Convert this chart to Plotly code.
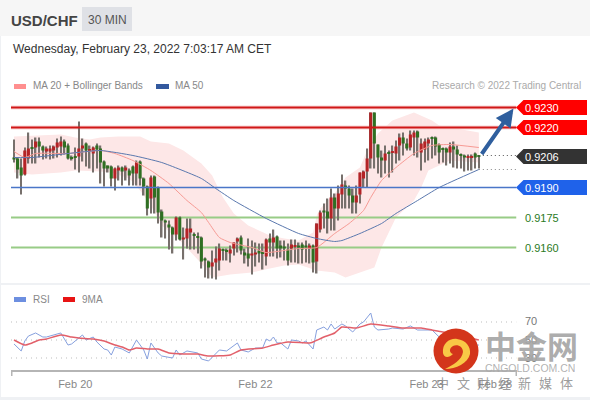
import plotly.graph_objects as go

# ---- data -------------------------------------------------------------
open_p = [92050,92045,92000,91965,92045,92100,92100,92130,92105,92080,92080,92085,92100,92105,92130,92110,92050,92055,92055,92095,
92120,92085,92070,92110,92095,92030,92010,92005,91945,91985,92000,91985,91985,92005,91970,92030,91945,91905,91845,91955,
91900,91780,91735,91715,91700,91665,91750,91640,91645,91675,91665,91655,91650,91545,91530,91505,91525,91535,91590,91585,
91570,91595,91630,91650,91575,91570,91560,91565,91585,91575,91555,91645,91625,91655,91610,91605,91590,91595,91605,91610,
91615,91610,91595,91610,91530,91690,91785,91780,91745,91850,91795,91865,91910,91895,91860,91825,91865,91945,91980,92045,
92275,92115,92050,92035,92075,92075,92070,92110,92150,92120,92100,92150,92180,92075,92090,92120,92150,92150,92115,92095,
92095,92075,92105,92090,92065,92060,92050,92050,92070,92060]
close_p = [92040,91990,91960,92085,92095,92095,92130,92105,92085,92095,92095,92105,92125,92130,92100,92045,92045,92050,92095,92110,
92085,92090,92100,92090,92025,91995,91995,91945,91995,92000,91980,92000,91960,91970,92025,91945,91905,91795,91950,91850,
91775,91735,91725,91700,91665,91750,91640,91650,91695,91695,91660,91650,91530,91535,91500,91525,91545,91595,91585,91580,
91590,91625,91645,91585,91560,91545,91570,91575,91570,91570,91640,91625,91650,91595,91595,91595,91535,91615,91610,91600,
91590,91600,91610,91525,91720,91775,91775,91745,91850,91795,91870,91915,91895,91860,91825,91860,91975,91980,92045,92275,
92120,92050,92035,92070,92070,92080,92105,92150,92120,92095,92165,92175,92150,92120,92130,92140,92145,92105,92075,92090,
92075,92105,92090,92065,92060,92050,92055,92055,92050,92055]
high_p = [92140,92050,92045,92100,92175,92140,92150,92150,92110,92105,92110,92110,92145,92155,92140,92120,92060,92100,92230,92145,
92125,92110,92105,92120,92110,92035,92010,92010,92000,92010,92005,92010,91995,92010,92035,92035,91950,91910,91960,91960,
91905,91790,91740,91735,91705,91755,91755,91700,91745,91745,91675,91675,91655,91550,91535,91585,91605,91620,91595,91595,
91610,91625,91650,91660,91595,91645,91635,91625,91620,91620,91645,91670,91690,91660,91635,91635,91620,91640,91640,91625,
91625,91635,91620,91615,91720,91785,91820,91845,91895,91870,91910,91965,91935,91910,91895,91910,91975,91985,92095,92275,
92275,92115,92085,92110,92085,92110,92135,92170,92175,92145,92185,92185,92185,92145,92145,92150,92155,92155,92120,92100,
92100,92125,92130,92110,92070,92065,92065,92065,92075,92060]
low_p = [92025,91945,91865,91960,92020,92020,92020,92050,92040,92045,92040,92045,92050,92060,92065,92040,92035,91990,91975,92030,
92005,91995,91975,91995,91920,91905,91975,91905,91885,91935,91910,91935,91910,91910,91910,91910,91860,91760,91770,91770,
91720,91650,91645,91590,91570,91635,91635,91540,91595,91590,91590,91570,91495,91450,91445,91445,91440,91485,91535,91535,
91525,91560,91575,91565,91520,91505,91465,91505,91525,91490,91510,91555,91555,91545,91550,91535,91510,91525,91525,91520,
91520,91525,91520,91475,91470,91675,91695,91670,91685,91685,91735,91795,91795,91795,91770,91770,91820,91900,91900,91995,
91995,91970,91950,91970,91950,91975,92020,92035,92060,92085,92085,92060,92050,91985,92025,92035,92045,92060,92020,92025,
92010,92020,92000,91995,91995,91980,91985,91985,91995,91995]
SCALE = 100000.0

ma20_i = [0,3,6,15,24,28,33,38,43,48,52,54,57,60,66,70,75,79,84,89,93,97,99,102,106,111,116,121,129]
ma20_v = [92080,92050,92070,92070,92085,92070,92035,91985,91920,91835,91775,91725,91650,91625,91600,91575,91585,91595,91600,91670,91720,91785,91850,91935,92000,92070,92110,92115,92100]
ma50_i = [0,5,15,24,33,41,52,56,61,70,79,84,89,91,96,102,106,112,118,129]
ma50_v = [92050,92050,92070,92085,92060,92025,91945,91895,91835,91745,91670,91645,91630,91635,91670,91720,91770,91835,91900,91990]
bb_up_i = [0,5,13,17,21,24,29,35,38,43,47,52,55,57,58,61,65,71,75,79,83,84,85,89,92,96,98,101,105,111,116,118,129]
bb_up_v = [92155,92160,92165,92150,92140,92150,92155,92155,92130,92120,92085,92020,91960,91885,91850,91770,91710,91660,91645,91635,91675,91760,91795,91870,91950,92000,92085,92170,92235,92275,92235,92210,92175]
bb_lo_i = [0,5,13,17,24,27,32,35,38,41,46,48,52,55,60,66,71,75,79,84,89,92,100,102,106,111,113,115,118,121,129]
bb_lo_v = [91975,91965,91975,91985,91980,91975,91945,91885,91810,91710,91635,91600,91520,91450,91465,91475,91495,91510,91515,91485,91475,91450,91500,91600,91750,91835,91900,91985,92010,92035,92025]

rsi_i = [0,2,3,4,6,8,9,13,15,16,19,20,22,23,25,26,27,28,30,32,34,36,37,38,40,41,44,45,46,48,51,52,54,57,59,62,63,65,67,69,70,71,72,73,74,76,77,79,80,81,83,84,86,87,88,89,91,92,94,96,97,99,100,101,104,105,108,110,112,116,118,120,124,129]
rsi_v = [45.6,37.8,48.9,54.4,57.8,53.3,53.3,57.8,44.4,45.6,55.6,50,53.3,47.8,40,38.9,33.3,42.2,40,35.6,50,38.9,28.9,46.7,35.6,32.2,30,38.9,33.3,37.8,35.6,28.9,26.7,38.9,37.8,46.7,38.9,36.7,41.1,41.1,51.1,48.9,53.3,46.7,46.7,40,50,48.9,46.7,48.9,40,61.1,64.4,61.1,67.8,62.2,67.8,65.6,58.9,67.8,70,80,64.4,61.1,62.2,63.3,62.2,65.6,61.1,61.1,53.3,50,44.4,44.4]
ma9_i = [0,3,5,7,9,13,16,18,22,25,28,30,32,34,37,40,43,47,51,54,60,63,69,72,76,82,83,86,89,91,95,99,104,108,113,116,119,129]
ma9_v = [50,44.4,46.7,50,51.1,55.6,53.3,52.2,51.1,48.9,44.4,42.2,38.9,41.1,40,40,35.6,34.4,34.4,32.2,33.3,38.9,41.1,44.4,47.8,46.7,47.8,53.3,57.8,64.4,63.3,67.8,65.6,63.3,63.3,61.1,58.9,50]

RED_LEVELS = [0.9230, 0.9220]
BLUE_LEVEL = 0.9190
GREEN_LEVELS = [0.9175, 0.9160]
LAST_PRICE = 0.9206
RSI_LEVELS = [70, 50, 30]
TICK_POS = [17, 67, 114.5, 133.5]
TICK_TXT = ["Feb 20", "Feb 22", "Feb 23", "Feb 28"]
SLOGAN = ["中", "文", "财", "经", "新", "媒", "体"]

# ---- geometry ---------------------------------------------------------
W, H = 590, 400
FONT = "Liberation Sans"
X0, X1 = -0.83, 139.45
PRICE_RANGE = [0.908375, 0.928375]
def pxx(x): return x / W
def pxy(y): return 1 - y / H
def path(pts):
    return "M" + " L".join(f"{pxx(a):.5f},{pxy(b):.5f}" for a, b in pts) + " Z"

n = len(open_p)
idx = list(range(n))
o = [v / SCALE for v in open_p]; c = [v / SCALE for v in close_p]
h = [v / SCALE for v in high_p]; l = [v / SCALE for v in low_p]

fig = go.Figure()

# base layer: Bollinger band and soft level lines
fig.add_trace(go.Scatter(x=bb_up_i + bb_lo_i[::-1],
                         y=[v / SCALE for v in bb_up_v] + [v / SCALE for v in bb_lo_v[::-1]],
                         fill="toself", fillcolor="#fde7e7", line=dict(width=0), mode="lines",
                         hoverinfo="skip", name="Bollinger Bands"))
for lv in RED_LEVELS:
    fig.add_trace(go.Scatter(x=[X0, X1], y=[lv, lv], mode="lines", line=dict(color="#fad6d6", width=4)))
for lv in GREEN_LEVELS:
    fig.add_trace(go.Scatter(x=[X0, X1], y=[lv, lv], mode="lines", line=dict(color="#98cc86", width=1.8)))

# overlay axis y2: candles
fig.add_trace(go.Bar(x=idx, y=[a - b for a, b in zip(h, l)], base=l, width=0.42, yaxis="y2",
                     marker=dict(color="#77706c", line_width=0), name="wick"))
fig.add_trace(go.Bar(x=idx, y=[abs(a - b) for a, b in zip(o, c)],
                     base=[min(a, b) for a, b in zip(o, c)], width=0.86, yaxis="y2",
                     marker=dict(color=["#b42326" if b > a else "#2f6f22" for a, b in zip(o, c)], line_width=0),
                     name="body"))

# overlay axis y3: averages and levels
fig.add_trace(go.Scatter(x=ma20_i, y=[v / SCALE for v in ma20_v], mode="lines", name="MA 20", yaxis="y3",
                         line=dict(color="#f79a94", width=1, shape="spline", smoothing=0.5)))
fig.add_trace(go.Scatter(x=ma50_i, y=[v / SCALE for v in ma50_v], mode="lines", name="MA 50", yaxis="y3",
                         line=dict(color="#5a78ae", width=1, shape="spline", smoothing=0.5)))
for lv in RED_LEVELS:
    fig.add_trace(go.Scatter(x=[X0, X1], y=[lv, lv], mode="lines", yaxis="y3", line=dict(color="#d01818", width=2)))
fig.add_trace(go.Scatter(x=[X0, X1], y=[BLUE_LEVEL] * 2, mode="lines", yaxis="y3", line=dict(color="#4a76c8", width=1.5)))
fig.add_trace(go.Scatter(x=[idx[-1], X1], y=[LAST_PRICE] * 2, mode="lines", yaxis="y3",
                         line=dict(color="#555555", width=1, dash="1px 3px")))
fig.add_trace(go.Scatter(x=[idx[-1], X1], y=[ma50_v[-1] / SCALE] * 2, mode="lines", yaxis="y3",
                         line=dict(color="#888888", width=1, dash="1px 3px")))

# overlay axis y4: RSI
for lv in RSI_LEVELS:
    fig.add_trace(go.Scatter(x=[X0, X1], y=[lv, lv], yaxis="y4", mode="lines",
                             line=dict(color="#bdbdbd", width=1, dash="1px 4px")))
fig.add_trace(go.Scatter(x=rsi_i, y=rsi_v, yaxis="y4", mode="lines", name="RSI", line=dict(color="#86a0de", width=1)))
fig.add_trace(go.Scatter(x=ma9_i, y=ma9_v, yaxis="y4", mode="lines", name="9MA",
                         line=dict(color="#e2606a", width=1.5, shape="spline", smoothing=0.5)))

# ---- static decoration -------------------------------------------------
def rect(x0, y0, x1, y1, color, layer="below"):
    return dict(type="rect", xref="paper", yref="paper", x0=pxx(x0), x1=pxx(x1), y0=pxy(y0), y1=pxy(y1),
                fillcolor=color, line_width=0, layer=layer)
def tag(yc, color):
    return dict(type="path", xref="paper", yref="paper", layer="above", fillcolor=color, line_width=0,
                path=path([(516, yc), (523.5, yc - 7.5), (587, yc - 7.5), (587, yc + 7.5), (523.5, yc + 7.5)]))

shapes = [
    rect(0, 0, 590, 36, "#f6f6f6"),
    rect(82, 7, 132, 31, "#dfe1e6"),
    rect(0, 283, 590, 285, "#eff1f4"),
    rect(0, 397, 590, 400, "#eff1f4"),
    rect(0, 36, 1, 397, "#eff1f4"),
    rect(14, 84, 26, 89, "#ff8f8f"),
    rect(156, 84, 169, 89, "#33599e"),
    rect(14, 297, 26, 302, "#6d8fe0"),
    rect(63, 297, 75, 302, "#e81414"),
    rect(11, 370, 12.5, 376, "#b5b5b5"),
    rect(515.5, 370, 517, 376, "#b5b5b5"),
    tag(107.5, "#ff0000"), tag(127.5, "#ff0000"), tag(156.5, "#333333"), tag(187.5, "#1f62ea"),
    dict(type="circle", xref="paper", yref="paper", layer="above", fillcolor="#d3351b", line_width=0,
         x0=pxx(433.5), x1=pxx(478.5), y0=pxy(373.5), y1=pxy(328.5)),
    dict(type="path", xref="paper", yref="paper", layer="above", fillcolor="#f9c846", line_width=0,
         path=(f"M{pxx(443):.4f},{pxy(353):.4f} C{pxx(442):.4f},{pxy(343):.4f} {pxx(450):.4f},{pxy(338):.4f} {pxx(457):.4f},{pxy(339):.4f} "
               f"C{pxx(466):.4f},{pxy(340):.4f} {pxx(471):.4f},{pxy(347):.4f} {pxx(470):.4f},{pxy(354):.4f} "
               f"C{pxx(468):.4f},{pxy(363):.4f} {pxx(456):.4f},{pxy(369):.4f} {pxx(445):.4f},{pxy(369):.4f} "
               f"C{pxx(453):.4f},{pxy(365):.4f} {pxx(462):.4f},{pxy(360):.4f} {pxx(463):.4f},{pxy(352):.4f} "
               f"C{pxx(463):.4f},{pxy(347):.4f} {pxx(458):.4f},{pxy(344):.4f} {pxx(453):.4f},{pxy(346):.4f} "
               f"C{pxx(449):.4f},{pxy(348):.4f} {pxx(449):.4f},{pxy(353):.4f} {pxx(453):.4f},{pxy(354):.4f} "
               f"C{pxx(449):.4f},{pxy(358):.4f} {pxx(444):.4f},{pxy(358):.4f} {pxx(443):.4f},{pxy(353):.4f} Z")),
]

def txt(x, y, s, size=11, color="#888888", anchor="left", bold=False, family=FONT):
    nudge = {"left": -2, "right": 2, "center": 0}[anchor]
    return dict(xref="paper", yref="paper", x=pxx(x + nudge), y=pxy(y + 1), text=f"<b>{s}</b>" if bold else s,
                showarrow=False, xanchor=anchor, yanchor="middle", align=anchor,
                font=dict(size=size, color=color, family=family))

LVL_TXT = [(107, "0.9230", "#ffffff"), (127, "0.9220", "#ffffff"), (156, "0.9206", "#ffffff"),
           (187, "0.9190", "#ffffff"), (217, "0.9175", "#2a7a1e"), (247, "0.9160", "#2a7a1e")]
CJK = "Noto Sans CJK SC"
annots = [
    txt(11, 19, "USD/CHF", 15, "#444444", bold=True),
    txt(107, 19, "30 MIN", 12, "#555555", "center"),
    txt(13, 48, "Wednesday, February 23, 2022 7:03:17 AM CET", 12, "#333333"),
    txt(33, 85, "MA 20 + Bollinger Bands", 10, "#888888"),
    txt(175, 85, "MA 50", 10, "#888888"),
    txt(581, 85, "Research © 2022 Trading Central", 10, "#aaaaaa", "right"),
    txt(33, 298, "RSI", 10, "#888888"),
    txt(82, 298, "9MA", 10, "#888888"),
    txt(525, 320, "70", 11, "#777777"),
    txt(525, 339, "50", 11, "#777777"),
    txt(525, 357, "30", 11, "#777777"),
] + [txt(525, y, s, 11, col) for y, s, col in LVL_TXT] + [
    txt(531, 343, "中金网", 31, "rgba(165,165,165,0.92)", "center", True, CJK),
    txt(530, 367, "CNGOLD.COM.CN", 10.5, "rgba(170,170,170,0.9)", "center"),
] + [txt(442.5 + 20.6 * i, 381, ch, 13, "rgba(130,130,130,0.8)", "center", False, CJK)
     for i, ch in enumerate(SLOGAN)] + [
    dict(xref="x", yref="y", axref="x", ayref="y", x=(513 - 14) / 3.6, y=0.92295,
         ax=idx[-1] + 0.5, ay=LAST_PRICE, text="", showarrow=True, arrowhead=2, arrowsize=0.9,
         arrowwidth=4, arrowcolor="#2f5f9e"),
]

fig.update_layout(
    width=W, height=H, autosize=False, showlegend=False, barmode="overlay", hovermode=False,
    margin=dict(l=0, r=0, t=0, b=0, pad=0), paper_bgcolor="white", plot_bgcolor="rgba(0,0,0,0)",
    font=dict(family=FONT),
    xaxis=dict(domain=[11 / W, 516.5 / W], range=[X0, X1], anchor="free", position=1 - 370.5 / H,
               showgrid=False, zeroline=False, showline=True, linecolor="#b5b5b5", linewidth=2,
               tickmode="array", tickvals=TICK_POS, ticktext=TICK_TXT, ticks="outside", ticklen=3,
               tickcolor="rgba(0,0,0,0)", tickfont=dict(size=11, color="#888888", family=FONT)),
    yaxis=dict(domain=[0, 1], range=PRICE_RANGE, visible=False, fixedrange=True),
    yaxis2=dict(domain=[0, 1], range=PRICE_RANGE, visible=False, overlaying="y", fixedrange=True),
    yaxis3=dict(domain=[0, 1], range=PRICE_RANGE, visible=False, overlaying="y", fixedrange=True),
    yaxis4=dict(domain=[0, 1], range=[-16.67, 427.8], visible=False, overlaying="y", fixedrange=True),
    shapes=shapes, annotations=annots,
)
fig.write_html("out.html", config=dict(displayModeBar=False),
               post_script="document.body.style.margin='0';document.body.style.background='white';")
